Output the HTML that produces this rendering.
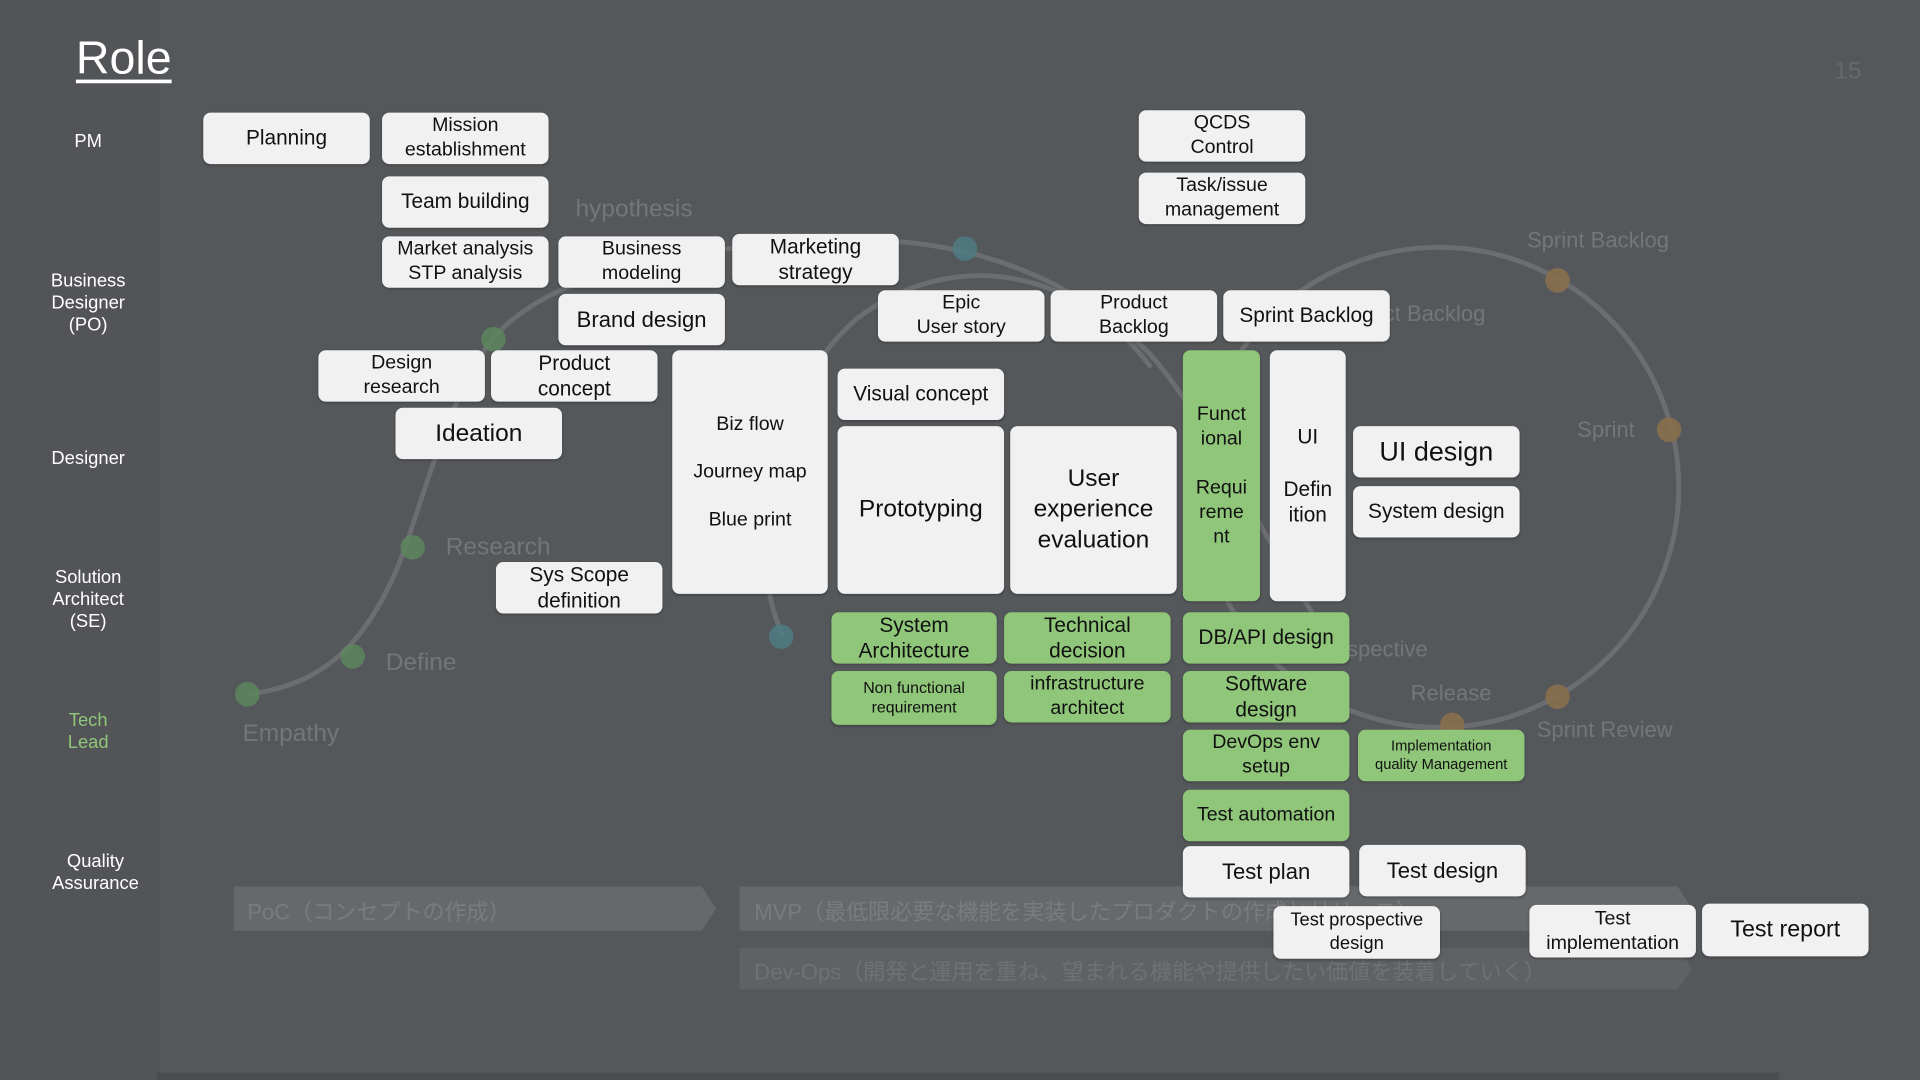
<!DOCTYPE html>
<html><head><meta charset="utf-8"><style>
html,body{margin:0;padding:0;width:1920px;height:1080px;overflow:hidden;background:#55585b;}
#s{position:absolute;left:0;top:0;width:1568px;height:882px;transform:scale(1.22449);transform-origin:0 0;font-family:"Liberation Sans","Noto Sans CJK JP",sans-serif;}
.b{position:absolute;background:#f1f1f1;border-radius:6px;display:flex;align-items:center;justify-content:center;text-align:center;color:#111;font-size:16px;line-height:1.25;box-shadow:0 1px 2px rgba(0,0,0,.25);}
.g{background:#8fc679;}
.l{position:absolute;color:#fff;font-size:15px;text-align:center;line-height:1.2;width:100px;}
.f{position:absolute;color:rgba(255,255,255,.18);font-size:20px;white-space:nowrap;}
</style></head><body><div id="s">
<div style="position:absolute;left:0;top:0;width:130px;height:882px;background:#525457"></div>
<div style="position:absolute;left:128px;top:876px;width:1325px;height:6px;background:#4a4c4f"></div>
<svg style="position:absolute;left:0;top:0" width="1568" height="882">
<g fill="none" stroke="rgba(255,255,255,.13)" stroke-width="4">
<circle cx="1175" cy="398" r="196"/>
<path d="M202 567 C260 560 300 530 330 450 C360 360 380 290 420 260 C470 220 560 200 700 196 C800 196 880 230 940 290 C1000 360 1050 480 1100 540"/>
<path d="M640 520 C610 460 620 330 700 260 C780 200 880 220 940 300"/>
</g>
<g>
<path d="M191 724 H573 L585 742 L573 760 H191 Z" fill="rgba(255,255,255,.1)"/>
<path d="M604 724 H1370 L1382 742 L1370 760 H604 Z" fill="rgba(255,255,255,.1)"/>
<path d="M604 774 H1370 L1382 791 L1370 808 H604 Z" fill="rgba(255,255,255,.06)"/>
</g>
<g fill="#5d8a5e" opacity=".8"><circle cx="202" cy="567" r="10"/><circle cx="288" cy="536" r="10"/><circle cx="337" cy="447" r="10"/><circle cx="403" cy="277" r="10"/></g>
<g fill="#4d7d86" opacity=".8"><circle cx="788" cy="203" r="10"/><circle cx="638" cy="520" r="10"/></g>
<g fill="#8a6f4c" opacity=".9"><circle cx="1272" cy="229" r="10"/><circle cx="1363" cy="351" r="10"/><circle cx="1272" cy="569" r="10"/><circle cx="1186" cy="592" r="10"/></g>
</svg>
<div class="f" style="left:470px;top:160px">hypothesis</div>
<div class="f" style="left:364px;top:436px">Research</div>
<div class="f" style="left:315px;top:530px">Define</div>
<div class="f" style="left:198px;top:588px">Empathy</div>
<div class="f" style="left:1247px;top:186px;font-size:18px">Sprint Backlog</div>
<div class="f" style="left:1130px;top:246px;font-size:18px">ct Backlog</div>
<div class="f" style="left:1288px;top:341px;font-size:18px">Sprint</div>
<div class="f" style="left:1100px;top:520px;font-size:18px">spective</div>
<div class="f" style="left:1152px;top:556px;font-size:18px">Release</div>
<div class="f" style="left:1255px;top:586px;font-size:18px">Sprint Review</div>
<div class="f" style="left:202px;top:731px;font-size:18px;color:rgba(255,255,255,.13)">PoC（コンセプトの作成）</div>
<div class="f" style="left:616px;top:731px;font-size:18px;color:rgba(255,255,255,.13)">MVP（最低限必要な機能を実装したプロダクトの作成とリリース）</div>
<div class="f" style="left:616px;top:780px;font-size:18px;color:rgba(255,255,255,.1)">Dev-Ops（開発と運用を重ね、望まれる機能や提供したい価値を装着していく）</div>
<div class="f" style="left:1498px;top:47px;font-size:20px;color:rgba(255,255,255,.1)">15</div>
<div style="position:absolute;left:62px;top:27px;color:#fff;font-size:38px;text-decoration:underline;text-underline-offset:5px">Role</div>
<div class="l" style="left:22px;top:107px">PM</div>
<div class="l" style="left:22px;top:221px">Business<br>Designer<br>(PO)</div>
<div class="l" style="left:22px;top:366px">Designer</div>
<div class="l" style="left:22px;top:463px">Solution<br>Architect<br>(SE)</div>
<div class="l" style="left:22px;top:580px;color:#8fc679">Tech<br>Lead</div>
<div class="l" style="left:28px;top:695px">Quality<br>Assurance</div>

<div class="b" style="left:166px;top:92px;width:136px;height:42px;font-size:17px">Planning</div>
<div class="b" style="left:312px;top:92px;width:136px;height:42px">Mission<br>establishment</div>
<div class="b" style="left:312px;top:144px;width:136px;height:42px;font-size:17px">Team building</div>
<div class="b" style="left:312px;top:193px;width:136px;height:42px">Market analysis<br>STP analysis</div>
<div class="b" style="left:456px;top:193px;width:136px;height:42px">Business<br>modeling</div>
<div class="b" style="left:598px;top:191px;width:136px;height:42px;font-size:17px">Marketing<br>strategy</div>
<div class="b" style="left:456px;top:240px;width:136px;height:42px;font-size:18px">Brand design</div>
<div class="b" style="left:717px;top:237px;width:136px;height:42px">Epic<br>User story</div>
<div class="b" style="left:858px;top:237px;width:136px;height:42px">Product<br>Backlog</div>
<div class="b" style="left:999px;top:237px;width:136px;height:42px;font-size:17px">Sprint Backlog</div>
<div class="b" style="left:930px;top:90px;width:136px;height:42px">QCDS<br>Control</div>
<div class="b" style="left:930px;top:141px;width:136px;height:42px">Task/issue<br>management</div>
<div class="b" style="left:260px;top:286px;width:136px;height:42px">Design<br>research</div>
<div class="b" style="left:401px;top:286px;width:136px;height:42px;font-size:17px">Product<br>concept</div>
<div class="b" style="left:323px;top:333px;width:136px;height:42px;font-size:20px">Ideation</div>
<div class="b" style="left:549px;top:286px;width:127px;height:199px;line-height:2.45">Biz flow<br>Journey map<br>Blue print</div>
<div class="b" style="left:684px;top:301px;width:136px;height:42px;font-size:17px">Visual concept</div>
<div class="b" style="left:684px;top:348px;width:136px;height:137px;font-size:20px">Prototyping</div>
<div class="b" style="left:825px;top:348px;width:136px;height:137px;font-size:20px">User<br>experience<br>evaluation</div>
<div class="b g" style="left:966px;top:286px;width:63px;height:205px">Funct<br>ional<br><br>Requi<br>reme<br>nt</div>
<div class="b" style="left:1037px;top:286px;width:62px;height:205px;font-size:17px">UI<br><br>Defin<br>ition</div>
<div class="b" style="left:1105px;top:348px;width:136px;height:42px;font-size:22px">UI design</div>
<div class="b" style="left:1105px;top:397px;width:136px;height:42px;font-size:17px">System design</div>
<div class="b" style="left:405px;top:459px;width:136px;height:42px;font-size:17px">Sys Scope<br>definition</div>
<div class="b g" style="left:679px;top:500px;width:135px;height:42px;font-size:17px">System<br>Architecture</div>
<div class="b g" style="left:820px;top:500px;width:136px;height:42px;font-size:17px">Technical<br>decision</div>
<div class="b g" style="left:966px;top:500px;width:136px;height:42px;font-size:17px">DB/API design</div>
<div class="b g" style="left:679px;top:548px;width:135px;height:44px;font-size:13px">Non functional<br>requirement</div>
<div class="b g" style="left:820px;top:548px;width:136px;height:42px">infrastructure<br>architect</div>
<div class="b g" style="left:966px;top:548px;width:136px;height:42px;font-size:17px">Software<br>design</div>
<div class="b g" style="left:966px;top:596px;width:136px;height:42px">DevOps env<br>setup</div>
<div class="b g" style="left:1109px;top:596px;width:136px;height:42px;font-size:12px">Implementation<br>quality Management</div>
<div class="b g" style="left:966px;top:645px;width:136px;height:42px">Test automation</div>
<div class="b" style="left:966px;top:691px;width:136px;height:42px;font-size:18px">Test plan</div>
<div class="b" style="left:1110px;top:690px;width:136px;height:42px;font-size:18px">Test design</div>
<div class="b" style="left:1040px;top:740px;width:136px;height:43px;font-size:15px">Test prospective<br>design</div>
<div class="b" style="left:1249px;top:739px;width:136px;height:43px">Test<br>implementation</div>
<div class="b" style="left:1390px;top:738px;width:136px;height:43px;font-size:19px">Test report</div>
</div></body></html>
